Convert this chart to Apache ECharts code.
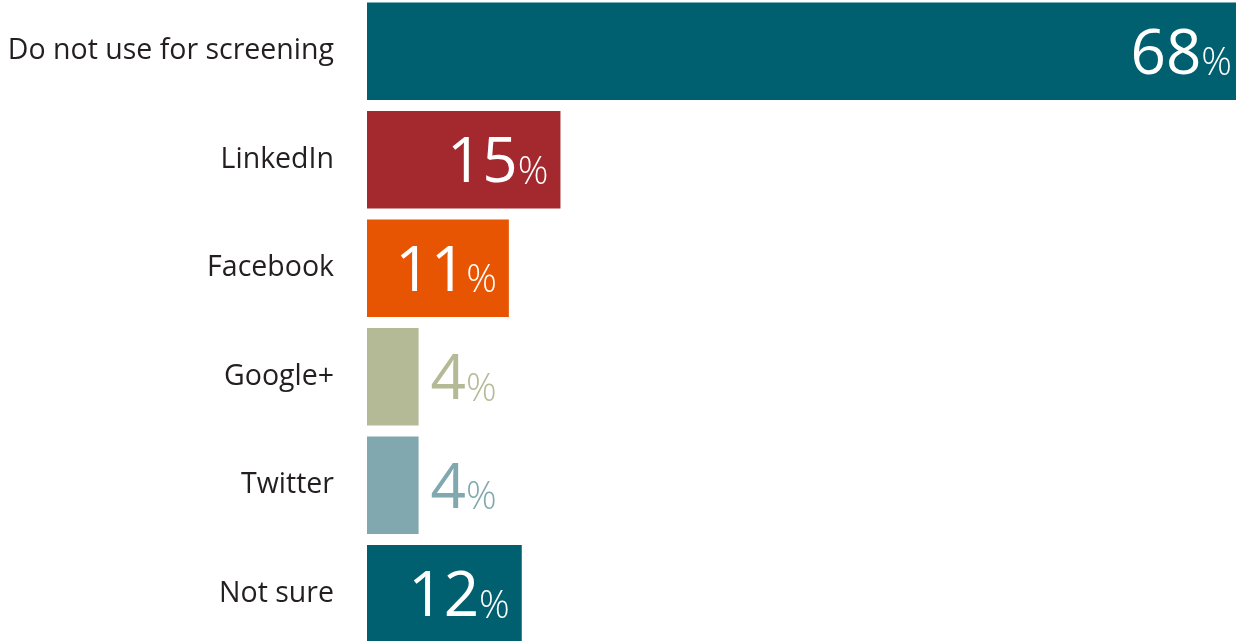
<!DOCTYPE html>
<html>
<head>
<meta charset="utf-8">
<script src="https://cdn.jsdelivr.net/npm/echarts@6/dist/echarts.min.js"></script>
<style>
  html, body { margin: 0; padding: 0; background: #fff; }
  #chart { width: 1236px; height: 641px; }
</style>
</head>
<body>
<div id="chart"></div>
<script>
// top to bottom
const categories = ['Do not use for screening', 'LinkedIn', 'Facebook', 'Google+', 'Twitter', 'Not sure'];
const values = [68, 15, 11, 4, 4, 12];
const barColors = ['#00606f', '#a4292f', '#e85502', '#b4b996', '#80a8ae', '#00606f'];
// small bars get their label outside, in the bar colour
const labelInside = [true, true, true, false, false, true];

let myChart = echarts.init(document.getElementById('chart'));

let seriesData = values.map((v, i) => {
  let inside = labelInside[i]
  let color = inside ? '#ffffff' : barColors[i]
  return {
    value: v,
    itemStyle: { color: barColors[i] },
    label: {
      position: inside ? 'insideRight' : 'right',
      distance: 12,
      offset: [0, 5],
      rich: {
        n: { fontSize: 62, color: color, fontFamily: 'Open Sans', verticalAlign: 'bottom' },
        p: { fontSize: 38, fontWeight: 300, color: color, fontFamily: 'Open Sans', verticalAlign: 'bottom', padding: [0, 0, 4, 0] }
      }
    }
  }
})

let option = {
  animation: false,
  grid: {
    left: 367,
    width: 877,
    top: -3,
    height: 651,
    outerBoundsMode: 'none',
    containLabel: false
  },
  xAxis: {
    type: 'value',
    min: 0,
    max: 68,
    show: false
  },
  yAxis: {
    type: 'category',
    inverse: true,
    data: categories,
    axisLine: { show: false },
    axisTick: { show: false },
    axisLabel: {
      margin: 33,
      fontSize: 28.5,
      color: '#231f20',
      fontFamily: 'Open Sans'
    }
  },
  series: [
    {
      type: 'bar',
      barCategoryGap: '10%',
      data: seriesData,
      label: {
        show: true,
        formatter: p => '{n|' + p.value + '}{p|%}'
      }
    }
  ]
};

myChart.setOption(option)
</script>
</body>
</html>
